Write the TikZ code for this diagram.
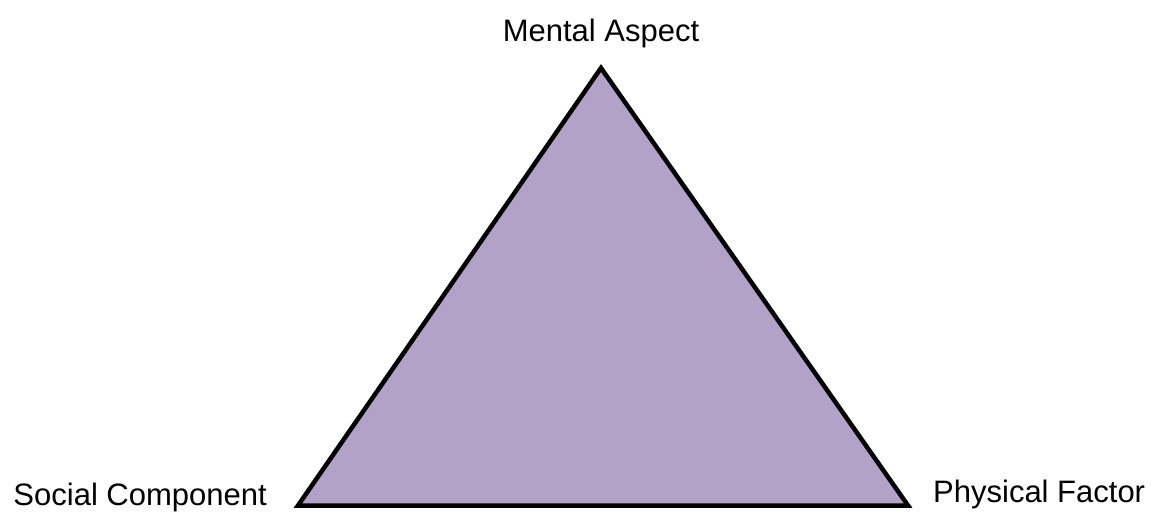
\documentclass[tikz,border=0pt]{standalone}
\usepackage{fontspec}
\setmainfont{Liberation Sans}
\definecolor{lavender}{HTML}{B3A2C7}
\begin{document}
\begin{tikzpicture}[x=1pt,y=1pt]
\useasboundingbox (0,0) rectangle (1151,514);
\coordinate (top) at (601,446);
\coordinate (left) at (298,8.5);
\coordinate (right) at (908,8.5);
\filldraw[fill=lavender, draw=black, line width=4.5pt, line join=miter] (top) -- (right) -- (left) -- cycle;
\node[anchor=base, inner sep=0pt, font=\fontsize{31}{37}\selectfont] (m) at (601,472) {Mental Aspect};
\node[anchor=base east, inner sep=0pt, font=\fontsize{31}{37}\selectfont] (s) at (267,9) {Social Component};
\node[anchor=base west, inner sep=0pt, font=\fontsize{31}{37}\selectfont] (p) at (933,12) {Physical Factor};
\end{tikzpicture}
\end{document}
